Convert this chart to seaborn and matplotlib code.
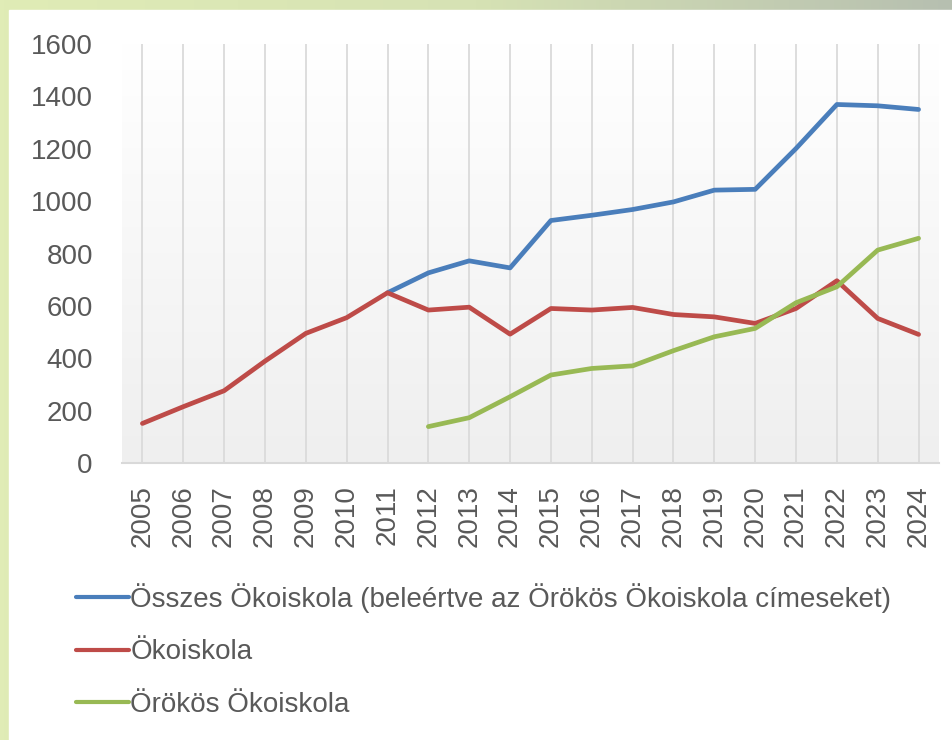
import numpy as np
import pandas as pd
import seaborn as sns
import matplotlib.pyplot as plt
from matplotlib.colors import LinearSegmentedColormap
from matplotlib.patches import Rectangle

years = list(range(2005, 2025))
total = [np.nan, np.nan, np.nan, np.nan, np.nan, np.nan, 650, 726, 772, 745,
         926, 946, 968, 997, 1042, 1045, 1201, 1369, 1364, 1350]
okoiskola = [151, 215, 276, 389, 495, 555, 650, 584, 595, 492,
             590, 584, 594, 567, 558, 533, 590, 696, 552, 491]
orokos = [np.nan, np.nan, np.nan, np.nan, np.nan, np.nan, np.nan, 139, 173, 253,
          336, 361, 371, 429, 482, 514, 612, 673, 813, 858]

names = ["Összes Ökoiskola (beleértve az Örökös Ökoiskola címeseket)",
         "Ökoiskola", "Örökös Ökoiskola"]
colors = ["#4a7ebb", "#be4b48", "#98b954"]

df = pd.DataFrame({"year": years, names[0]: total, names[1]: okoiskola, names[2]: orokos})
long = df.melt(id_vars="year", var_name="series", value_name="value").dropna()

sns.set_style("white")
plt.rcParams['font.family'] = ['Liberation Sans', 'DejaVu Sans']
text_color = "#595959"

fig = plt.figure(figsize=(9.53, 7.40), dpi=100)

# background frame with gradient + white panel
bg = fig.add_axes([0, 0, 1, 1], zorder=-10)
grad = np.linspace(0, 1, 256).reshape(1, -1)
bg_cmap = LinearSegmentedColormap.from_list("bg", ["#e0ecb6", "#d6e2b4", "#b6bfb0"])
bg.imshow(grad, aspect="auto", cmap=bg_cmap, extent=[0, 1, 0, 1])
bg.add_patch(Rectangle((9 / 953, 0), 1, 1 - 10 / 740, color="white", transform=bg.transAxes))
bg.set_xlim(0, 1)
bg.set_ylim(0, 1)
bg.axis("off")

ax = fig.add_axes([122 / 953, 1 - 463 / 740, (939 - 122) / 953, (463 - 44) / 740])

# plot area gradient: white at top, light gray at bottom
vgrad = np.linspace(0, 1, 256).reshape(-1, 1)
pa_cmap = LinearSegmentedColormap.from_list("pa", ["#ffffff", "#efefef"])
ax.imshow(vgrad, aspect="auto", cmap=pa_cmap, origin="upper",
          extent=[2004.5, 2024.5, 0, 1600], zorder=0)

for y in years:
    ax.axvline(y, color="#dadada", lw=1.3, zorder=1)

sns.lineplot(data=long, x="year", y="value", hue="series", hue_order=names,
             palette=colors, lw=3.4, ax=ax, zorder=3, legend=True)

ax.set_xlim(2004.5, 2024.5)
ax.set_ylim(0, 1600)
ax.set_yticks(range(0, 1601, 200))
ax.set_xticks(years)
ax.set_xticklabels([str(y) for y in years], rotation=90)
ax.tick_params(axis="y", length=0, pad=21, labelsize=20, labelcolor=text_color)
ax.tick_params(axis="x", length=0, pad=16, labelsize=20, labelcolor=text_color)
ax.set_xlabel("")
ax.set_ylabel("")
for s in ["top", "right", "left"]:
    ax.spines[s].set_visible(False)
ax.spines["bottom"].set_color("#d9d9d9")
ax.spines["bottom"].set_linewidth(1.5)
ax.grid(False)

handles, labels = ax.get_legend_handles_labels()
leg = ax.legend(handles, labels, loc="upper left", bbox_to_anchor=(65 / 953, 1 - 572 / 740),
                bbox_transform=fig.transFigure, frameon=False, fontsize=20,
                handlelength=1.9, handletextpad=0.05, labelspacing=0.95, borderaxespad=0)
for t in leg.get_texts():
    t.set_color(text_color)
for l in leg.get_lines():
    l.set_linewidth(3)

fig.savefig("out.png", dpi=100)
